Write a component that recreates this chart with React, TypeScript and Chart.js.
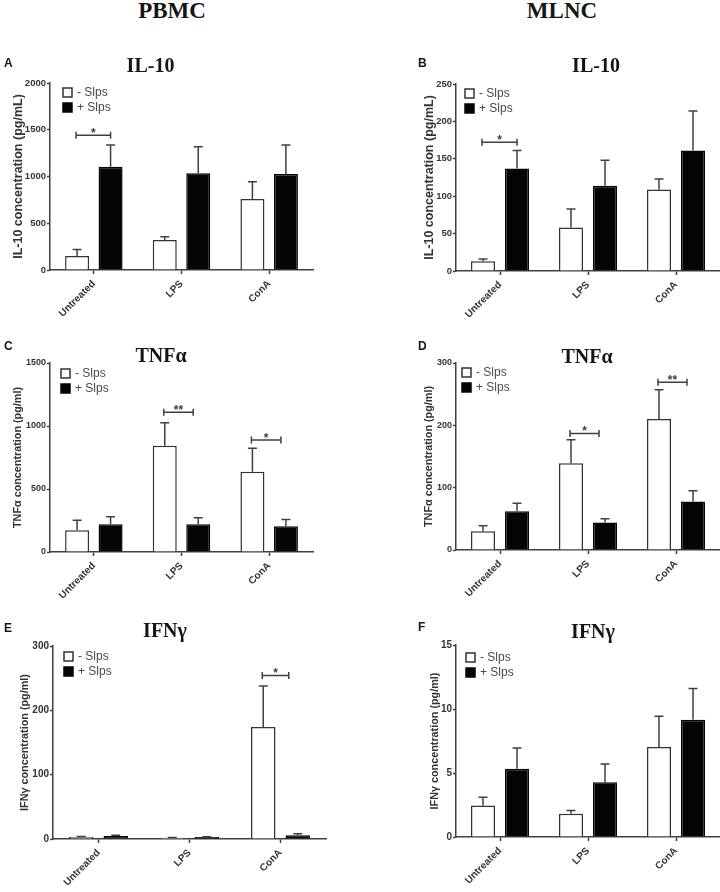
import React, { useEffect, useRef } from 'react';
import { Chart, registerables } from 'chart.js';

Chart.register(...registerables);

const SANS = "'Liberation Sans', Arial, Helvetica, sans-serif";
const SERIF = "'Liberation Serif', 'Times New Roman', Times, serif";
const INK = '#404040';

// ---------- data ----------
const categories = ['Untreated', 'LPS', 'ConA'];
const seriesNames = ['- Slps', '+ Slps'];

// A: PBMC IL-10 (pg/mL)
const aMinus = [150, 321, 759];
const aMinusSem = [70, 35, 185];
const aPlus = [1105, 1034, 1027];
const aPlusSem = [232, 285, 310];
const aTicks = [0, 500, 1000, 1500, 2000];
const aSig = [{ cat: 0, value: 1440, mark: '*' }];

// B: MLNC IL-10 (pg/mL)
const bMinus = [13, 58, 109];
const bMinusSem = [3, 25, 14];
const bPlus = [137, 114, 161];
const bPlusSem = [24, 34, 53];
const bTicks = [0, 50, 100, 150, 200, 250];
const bSig = [{ cat: 0, value: 172, mark: '*' }];

// C: PBMC TNFα (pg/ml)
const cMinus = [173, 844, 637];
const cMinusSem = [79, 181, 186];
const cPlus = [220, 220, 205];
const cPlusSem = [59, 51, 53];
const cTicks = [0, 500, 1000, 1500];
const cSig = [
  { cat: 1, value: 1110, mark: '**' },
  { cat: 2, value: 888, mark: '*' },
];

// D: MLNC TNFα (pg/ml)
const dMinus = [30, 139, 210];
const dMinusSem = [9, 38, 47];
const dPlus = [62, 44, 78];
const dPlusSem = [13, 6, 17];
const dTicks = [0, 100, 200, 300];
const dSig = [
  { cat: 1, value: 187, mark: '*' },
  { cat: 2, value: 269, mark: '**' },
];

// E: PBMC IFNγ (pg/ml)
const eMinus = [3, 2, 174];
const eMinusSem = [1, 0.5, 64];
const ePlus = [4.5, 3, 6];
const ePlusSem = [1.5, 0.5, 2];
const eTicks = [0, 100, 200, 300];
const eSig = [{ cat: 2, value: 254, mark: '*' }];

// F: MLNC IFNγ (pg/ml)
const fMinus = [2.47, 1.82, 7.03];
const fMinusSem = [0.63, 0.26, 2.4];
const fPlus = [5.33, 4.27, 9.16];
const fPlusSem = [1.62, 1.43, 2.44];
const fTicks = [0, 5, 10, 15];
const fSig: { cat: number; value: number; mark: string }[] = [];

// ---------- layout ----------
const layouts = {
  A: { left: 0, top: 40, w: 360, h: 300, yAxisW: 50, padTop: 43, padRight: 47, xAxisH: 70, cp: 0.764, bp: 0.716, titlePad: 11, titleSize: 12.5, legendDx: 13, legendDy: 5, bracketInset: 0, tickSize: 9.5 },
  B: { left: 360, top: 40, w: 360, h: 300, yAxisW: 96, padTop: 44, padRight: 0, xAxisH: 69, cp: 0.773, bp: 0.706, titlePad: 62.5, titleSize: 12.5, legendDx: 9, legendDy: 5, bracketInset: 0, tickSize: 9.5 },
  C: { left: 0, top: 320, w: 360, h: 300, yAxisW: 50, padTop: 43, padRight: 47, xAxisH: 68, cp: 0.764, bp: 0.716, titlePad: 11.5, titleSize: 10.8, legendDx: 11, legendDy: 6, bracketInset: 5, tickSize: 9 },
  D: { left: 360, top: 320, w: 360, h: 300, yAxisW: 96, padTop: 43, padRight: 0, xAxisH: 70, cp: 0.773, bp: 0.706, titlePad: 62.5, titleSize: 10.8, legendDx: 6, legendDy: 5, bracketInset: 6, tickSize: 9 },
  E: { left: 0, top: 603, w: 360, h: 289, yAxisW: 53, padTop: 43, padRight: 34, xAxisH: 53, cp: 0.758, bp: 0.71, titlePad: 19, titleSize: 10.8, legendDx: 11, legendDy: 6, bracketInset: 9, tickSize: 10 },
  F: { left: 360, top: 602, w: 360, h: 290, yAxisW: 96, padTop: 43, padRight: 0, xAxisH: 55, cp: 0.773, bp: 0.706, titlePad: 68.5, titleSize: 10.8, legendDx: 10, legendDy: 8, bracketInset: 0, tickSize: 10 },
};

const panels = [
  { key: 'A', yTitle: 'IL-10 concentration (pg/mL)', minus: aMinus, minusSem: aMinusSem, plus: aPlus, plusSem: aPlusSem, ticks: aTicks, sig: aSig },
  { key: 'B', yTitle: 'IL-10 concentration (pg/mL)', minus: bMinus, minusSem: bMinusSem, plus: bPlus, plusSem: bPlusSem, ticks: bTicks, sig: bSig },
  { key: 'C', yTitle: 'TNFα concentration (pg/ml)', minus: cMinus, minusSem: cMinusSem, plus: cPlus, plusSem: cPlusSem, ticks: cTicks, sig: cSig },
  { key: 'D', yTitle: 'TNFα concentration (pg/ml)', minus: dMinus, minusSem: dMinusSem, plus: dPlus, plusSem: dPlusSem, ticks: dTicks, sig: dSig },
  { key: 'E', yTitle: 'IFNγ concentration (pg/ml)', minus: eMinus, minusSem: eMinusSem, plus: ePlus, plusSem: ePlusSem, ticks: eTicks, sig: eSig },
  { key: 'F', yTitle: 'IFNγ concentration (pg/ml)', minus: fMinus, minusSem: fMinusSem, plus: fPlus, plusSem: fPlusSem, ticks: fTicks, sig: fSig },
];

const headings = [
  { text: 'PBMC', cx: 172, base: 18, size: 23 },
  { text: 'MLNC', cx: 562, base: 18, size: 23 },
];
const titles = [
  { text: 'IL-10', cx: 150.5, base: 72 },
  { text: 'IL-10', cx: 596, base: 72 },
  { text: 'TNFα', cx: 161, base: 362 },
  { text: 'TNFα', cx: 587, base: 363 },
  { text: 'IFNγ', cx: 165, base: 637 },
  { text: 'IFNγ', cx: 593, base: 638 },
];
const letters = [
  { text: 'A', x: 4, base: 67 },
  { text: 'B', x: 418, base: 67 },
  { text: 'C', x: 4, base: 350 },
  { text: 'D', x: 418, base: 350 },
  { text: 'E', x: 4, base: 632 },
  { text: 'F', x: 418, base: 631 },
];

function makeDecor(p: any, L: any) {
  return {
    id: 'decor',
    afterDatasetsDraw(chart: any) {
      const ctx = chart.ctx;
      const ys = chart.scales.y;
      const sems = [p.minusSem, p.plusSem];
      ctx.save();
      ctx.strokeStyle = INK;
      ctx.lineWidth = 1.5;
      chart.data.datasets.forEach((ds: any, di: number) => {
        const meta = chart.getDatasetMeta(di);
        meta.data.forEach((el: any, i: number) => {
          const v = ds.data[i];
          const y0 = ys.getPixelForValue(v);
          const y1 = ys.getPixelForValue(v + sems[di][i]);
          ctx.beginPath();
          ctx.moveTo(el.x, y0);
          ctx.lineTo(el.x, y1);
          ctx.moveTo(el.x - 4.5, y1);
          ctx.lineTo(el.x + 4.5, y1);
          ctx.stroke();
        });
      });
      const m0 = chart.getDatasetMeta(0);
      const m1 = chart.getDatasetMeta(1);
      p.sig.forEach((s: any) => {
        const x0 = m0.data[s.cat].x - 1;
        const x1 = m1.data[s.cat].x - L.bracketInset;
        const y = ys.getPixelForValue(s.value);
        ctx.strokeStyle = INK;
        ctx.lineWidth = 1.5;
        ctx.beginPath();
        ctx.moveTo(x0, y);
        ctx.lineTo(x1, y);
        ctx.moveTo(x0, y - 3.5);
        ctx.lineTo(x0, y + 3.5);
        ctx.moveTo(x1, y - 3.5);
        ctx.lineTo(x1, y + 3.5);
        ctx.stroke();
        ctx.fillStyle = INK;
        ctx.font = `bold 12px ${SANS}`;
        ctx.textAlign = 'center';
        ctx.textBaseline = 'alphabetic';
        ctx.fillText(s.mark, (x0 + x1) / 2, y + 1.5);
      });
      // legend
      const ca = chart.chartArea;
      const lx = ca.left + L.legendDx;
      const ly = ca.top + L.legendDy;
      chart.data.datasets.forEach((ds: any, di: number) => {
        const by = ly + di * 15;
        ctx.fillStyle = ds.backgroundColor;
        ctx.fillRect(lx, by, 9, 9);
        ctx.strokeStyle = ds.borderColor;
        ctx.lineWidth = 1.5;
        ctx.strokeRect(lx, by, 9, 9);
        ctx.fillStyle = '#4a4a4a';
        ctx.font = `12px ${SANS}`;
        ctx.textAlign = 'left';
        ctx.textBaseline = 'middle';
        ctx.fillText(ds.label, lx + 14, by + 5);
      });
      ctx.restore();
    },
  };
}

function Panel({ p }: { p: any }) {
  const ref = useRef<HTMLCanvasElement | null>(null);
  const L = (layouts as any)[p.key];
  useEffect(() => {
    if (!ref.current) return;
    const t = p.ticks;
    const yFont = { family: SANS, size: L.tickSize, weight: 'bold' as const };
    const xFont = { family: SANS, size: 10, weight: 'bold' as const };
    const chart = new Chart(ref.current, {
      type: 'bar',
      data: {
        labels: categories,
        datasets: [
          {
            label: seriesNames[0],
            data: p.minus,
            backgroundColor: '#ffffff',
            borderColor: '#333333',
            borderWidth: 1.5,
            categoryPercentage: L.cp,
            barPercentage: L.bp,
          },
          {
            label: seriesNames[1],
            data: p.plus,
            backgroundColor: '#050505',
            borderColor: '#050505',
            borderWidth: 1.5,
            categoryPercentage: L.cp,
            barPercentage: L.bp,
          },
        ],
      },
      options: {
        responsive: false,
        animation: false,
        devicePixelRatio: 1,
        layout: { padding: { top: L.padTop, right: L.padRight, left: 0, bottom: 0 } },
        plugins: {
          legend: { display: false },
          tooltip: { enabled: false },
          title: { display: false },
        },
        scales: {
          x: {
            offset: true,
            grid: {
              offset: false,
              drawOnChartArea: false,
              drawTicks: true,
              tickLength: 4,
              tickWidth: 1.5,
              tickColor: INK,
            },
            border: { display: true, color: INK, width: 1.5 },
            ticks: {
              autoSkip: false,
              minRotation: 45,
              maxRotation: 45,
              padding: 4,
              color: '#333',
              font: xFont,
            },
            afterFit: (s: any) => {
              s.height = L.xAxisH;
            },
          },
          y: {
            min: t[0],
            max: t[t.length - 1],
            grid: {
              drawOnChartArea: false,
              drawTicks: true,
              tickLength: 3,
              tickWidth: 1.5,
              tickColor: INK,
            },
            border: { display: true, color: INK, width: 1.5 },
            ticks: {
              stepSize: t[1] - t[0],
              padding: 1,
              color: '#333',
              font: yFont,
              callback: (v: any) => String(v),
            },
            title: {
              display: true,
              text: p.yTitle,
              color: '#333',
              font: { family: SANS, size: L.titleSize, weight: 'bold' },
              padding: { top: L.titlePad, bottom: 0 },
            },
            afterFit: (s: any) => {
              s.width = L.yAxisW;
            },
          },
        },
      },
      plugins: [makeDecor(p, L)],
    } as any);
    return () => chart.destroy();
  }, []);
  return (
    <canvas
      ref={ref}
      width={L.w}
      height={L.h}
      style={{ position: 'absolute', left: L.left, top: L.top, width: L.w, height: L.h }}
    />
  );
}

export default function App() {
  return (
    <div style={{ position: 'absolute', left: 0, top: 0, width: 720, height: 892, background: '#fff', overflow: 'hidden' }}>
      {panels.map((p) => (
        <Panel key={p.key} p={p} />
      ))}
      {headings.map((h, i) => (
        <div
          key={'h' + i}
          style={{
            position: 'absolute',
            left: h.cx,
            top: h.base - 0.8375 * h.size,
            transform: 'translateX(-50%)',
            fontFamily: SERIF,
            fontWeight: 'bold',
            fontSize: h.size,
            lineHeight: `${h.size}px`,
            whiteSpace: 'nowrap',
            color: '#151515',
          }}
        >
          {h.text}
        </div>
      ))}
      {titles.map((h, i) => (
        <div
          key={'t' + i}
          style={{
            position: 'absolute',
            left: h.cx,
            top: h.base - 0.8375 * 20,
            transform: 'translateX(-50%)',
            fontFamily: SERIF,
            fontWeight: 'bold',
            fontSize: 20,
            lineHeight: '20px',
            whiteSpace: 'nowrap',
            color: '#151515',
          }}
        >
          {h.text}
        </div>
      ))}
      {letters.map((h, i) => (
        <div
          key={'l' + i}
          style={{
            position: 'absolute',
            left: h.x,
            top: h.base - 0.8465 * 12,
            fontFamily: SANS,
            fontWeight: 'bold',
            fontSize: 12,
            lineHeight: '12px',
            whiteSpace: 'nowrap',
            color: '#151515',
          }}
        >
          {h.text}
        </div>
      ))}
    </div>
  );
}
